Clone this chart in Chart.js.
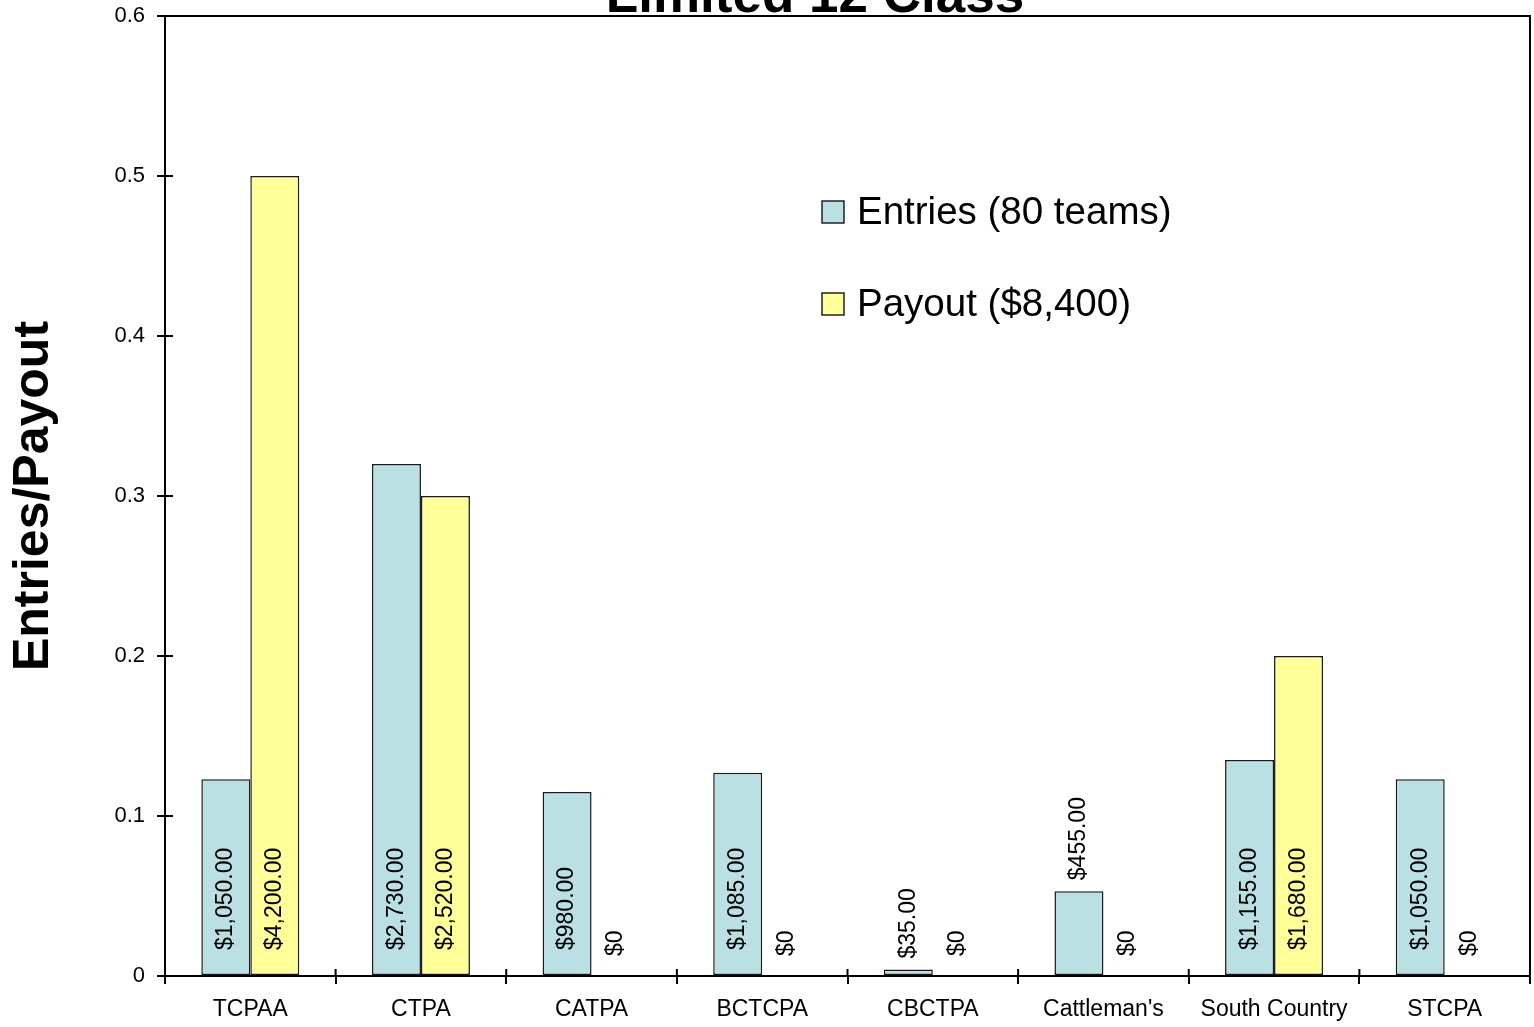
<!DOCTYPE html>
<html>
<head>
<meta charset="utf-8">
<script src="https://cdn.jsdelivr.net/npm/chart.js@4/dist/chart.umd.min.js"></script>
<style>
  html, body { margin: 0; padding: 0; background: #ffffff; }
  #wrap { width: 1534px; height: 1027px; position: relative; }
</style>
</head>
<body>
<div id="wrap"><canvas id="c" width="1534" height="1027"></canvas></div>
<script>
const chartTitle = "Limited 12 Class";
const yAxisTitle = "Entries/Payout";
const categories = ["TCPAA", "CTPA", "CATPA", "BCTCPA", "CBCTPA", "Cattleman's", "South Country", "STCPA"];
const seriesNames = ["Entries (80 teams)", "Payout ($8,400)"];
const entriesShare = [0.123, 0.320, 0.115, 0.127, 0.004, 0.053, 0.135, 0.123];
const payoutShare = [0.5, 0.3, 0, 0, 0, 0, 0.2, 0];
const entriesLabels = ["$1,050.00", "$2,730.00", "$980.00", "$1,085.00", "$35.00", "$455.00", "$1,155.00", "$1,050.00"];
const payoutLabels = ["$4,200.00", "$2,520.00", "$0", "$0", "$0", "$0", "$1,680.00", "$0"];
const yMin = 0, yMax = 0.6, yStep = 0.1;

const FONT = "'Liberation Sans', Arial, Helvetica, sans-serif";
const barLabels = [entriesLabels, payoutLabels];

const framePlugin = {
  id: 'frame',
  afterDraw(chart) {
    const ctx = chart.ctx;
    const a = chart.chartArea;
    ctx.save();
    ctx.strokeStyle = '#000';
    ctx.lineWidth = 2;
    ctx.beginPath();
    ctx.moveTo(a.left, a.top);
    ctx.lineTo(a.right, a.top);
    ctx.lineTo(a.right, a.bottom);
    ctx.stroke();
    const ys = chart.scales.y;
    ys.ticks.forEach((t, i) => {
      const py = ys.getPixelForTick(i);
      ctx.beginPath();
      ctx.moveTo(a.left, py);
      ctx.lineTo(a.left + 8, py);
      ctx.stroke();
    });
    const xs = chart.scales.x;
    const n = xs.ticks.length;
    const step = xs.getPixelForTick(1) - xs.getPixelForTick(0);
    for (let i = 0; i <= n; i++) {
      const px = (i < n) ? xs.getPixelForTick(i) - step / 2 : xs.getPixelForTick(n - 1) + step / 2;
      ctx.beginPath();
      ctx.moveTo(px, a.bottom);
      ctx.lineTo(px, a.bottom - 7);
      ctx.stroke();
    }
    ctx.fillStyle = '#000';
    ctx.font = "bold 53px " + FONT;
    ctx.textAlign = 'center';
    ctx.textBaseline = 'alphabetic';
    ctx.fillText(chartTitle, 815, 12);
    ctx.font = "38.5px " + FONT;
    ctx.textAlign = 'left';
    ctx.textBaseline = 'middle';
    const legendY = [212, 304];
    chart.data.datasets.forEach((ds, i) => {
      const cy = legendY[i];
      ctx.fillStyle = ds.backgroundColor;
      ctx.fillRect(822, cy - 11, 22, 22);
      ctx.lineWidth = 1.5;
      ctx.strokeStyle = '#222';
      ctx.strokeRect(822, cy - 11, 22, 22);
      ctx.fillStyle = '#000';
      ctx.fillText(ds.label, 857, cy + 1);
    });
    ctx.restore();
  },
  afterDatasetsDraw(chart) {
    const ctx = chart.ctx;
    ctx.save();
    ctx.font = "23px " + FONT;
    ctx.fillStyle = '#000';
    ctx.textBaseline = 'middle';
    ctx.textAlign = 'left';
    chart.data.datasets.forEach((ds, di) => {
      const meta = chart.getDatasetMeta(di);
      meta.data.forEach((el, i) => {
        const txt = barLabels[di][i];
        const w = ctx.measureText(txt).width;
        const h = el.base - el.y;
        let start;
        if (ds.data[i] === 0) start = el.base - 20;
        else if (h >= w + 34) start = el.base - 25;
        else start = el.y - 11;
        ctx.save();
        ctx.translate(el.x, start);
        ctx.rotate(-Math.PI / 2);
        ctx.fillText(txt, 0, 0);
        ctx.restore();
      });
    });
    ctx.restore();
  }
};

new Chart(document.getElementById('c'), {
  type: 'bar',
  data: {
    labels: categories,
    datasets: [
      { label: seriesNames[0], data: entriesShare, backgroundColor: '#BBE0E3', borderColor: '#1a1a1a', borderWidth: 1.5, borderSkipped: false },
      { label: seriesNames[1], data: payoutShare, backgroundColor: '#FFFF99', borderColor: '#1a1a1a', borderWidth: 1.5, borderSkipped: false }
    ]
  },
  options: {
    responsive: false,
    animation: false,
    devicePixelRatio: 1,
    layout: { padding: { top: 16, right: 4, left: 0, bottom: 0 } },
    datasets: { bar: { categoryPercentage: 0.574, barPercentage: 1.0 } },
    plugins: { legend: { display: false }, title: { display: false }, tooltip: { enabled: false } },
    scales: {
      x: {
        offset: true,
        grid: { display: true, offset: true, drawOnChartArea: false, drawTicks: true, tickLength: 8, color: '#000', lineWidth: 2 },
        border: { display: true, color: '#000', width: 2 },
        ticks: { color: '#000', font: { family: FONT, size: 23 }, padding: 12, maxRotation: 0, autoSkip: false },
        afterFit(scale) { scale.height = 51; scale.paddingLeft = 0; scale.paddingRight = 0; }
      },
      y: {
        min: yMin, max: yMax,
        grid: { display: true, drawOnChartArea: false, drawTicks: true, tickLength: 8, color: '#000', lineWidth: 2 },
        border: { display: true, color: '#000', width: 2 },
        ticks: { stepSize: yStep, color: '#000', font: { family: FONT, size: 22 }, padding: 12,
          callback: v => String(Math.round(v * 10) / 10) },
        title: { display: true, text: yAxisTitle, color: '#000', font: { family: FONT, size: 50, weight: 'bold' }, padding: { top: 4, bottom: 0 } },
        afterFit(scale) { scale.width = 165; scale.paddingTop = 0; scale.paddingBottom = 0; }
      }
    }
  },
  plugins: [framePlugin]
});
</script>
</body>
</html>
